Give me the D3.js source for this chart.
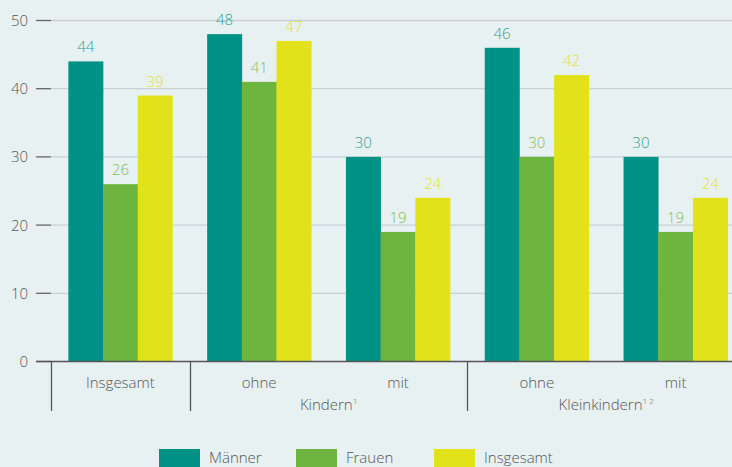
<!DOCTYPE html>
<html>
<head>
<meta charset="utf-8">
<script src="https://cdn.jsdelivr.net/npm/d3@7"></script>
<style>
  html, body { margin: 0; padding: 0; background: #e8f1f2; }
  svg { display: block; font-family: "Open Sans", "Noto Sans", sans-serif; font-weight: 300; }
</style>
</head>
<body>
<svg id="chart" width="732" height="467"></svg>
<script>
const categories = ["Insgesamt", "ohne Kindern", "mit Kindern", "ohne Kleinkindern", "mit Kleinkindern"];
const catLabels = ["Insgesamt", "ohne", "mit", "ohne", "mit"];
const series = ["Männer", "Frauen", "Insgesamt"];
const maenner = [44, 48, 30, 46, 30];
const frauen = [26, 41, 19, 30, 19];
const insgesamt = [39, 47, 24, 42, 24];
const yTicks = [0, 10, 20, 30, 40, 50];
const groupLabels = [
    { text: "Kindern", sup: "1", from: 1, to: 2 },
    { text: "Kleinkindern", sup: "1 2", from: 3, to: 4 }
];

const colors = ["#009286", "#6db53e", "#e2e21a"];
const labelColors = ["#2fa193", "#80bf52", "#e3df2e"];
const values = [maenner, frauen, insgesamt];

const svg = d3.select("#chart");

const x = d3.scaleBand()
    .domain(categories)
    .range([51, 745])
    .paddingInner(0.25)
    .paddingOuter(0.125);

const xs = d3.scaleBand()
    .domain(series)
    .range([0, x.bandwidth()]);

const y = d3.scaleLinear()
    .domain([0, 50])
    .range([361.5, 20.5]);

// grid lines
svg.append("g")
    .selectAll("line")
    .data(yTicks.filter(d => d > 0))
    .join("line")
    .attr("x1", 51)
    .attr("x2", 732)
    .attr("y1", d => y(d))
    .attr("y2", d => y(d))
    .attr("stroke", "#c9d0d3")
    .attr("stroke-width", 1.3);

// tick marks
svg.append("g")
    .selectAll("line")
    .data(yTicks)
    .join("line")
    .attr("x1", 36)
    .attr("x2", 51)
    .attr("y1", d => y(d))
    .attr("y2", d => y(d))
    .attr("stroke", "#666")
    .attr("stroke-width", 1.3);

svg.append("g")
    .selectAll("text")
    .data(yTicks)
    .join("text")
    .attr("x", 28)
    .attr("y", d => y(d) + 5.5)
    .attr("text-anchor", "end")
    .attr("fill", "#555")
    .style("font-size", "15px")
    .text(d => d);

// bars
const groups = svg.append("g")
    .selectAll("g")
    .data(categories)
    .join("g")
    .attr("transform", d => `translate(${x(d)},0)`);

groups.selectAll("rect")
    .data((c, i) => series.map((s, j) => ({ s, j, v: values[j][i] })))
    .join("rect")
    .attr("x", d => xs(d.s))
    .attr("width", xs.bandwidth() + 0.3)
    .attr("y", d => y(d.v))
    .attr("height", d => y(0) - y(d.v))
    .attr("fill", d => colors[d.j]);

groups.selectAll("text")
    .data((c, i) => series.map((s, j) => ({ s, j, v: values[j][i] })))
    .join("text")
    .attr("x", d => xs(d.s) + xs.bandwidth() / 2)
    .attr("y", d => y(d.v) - 9)
    .attr("text-anchor", "middle")
    .attr("fill", d => labelColors[d.j])
    .style("font-size", "15px")
    .text(d => d.v);

// zero axis line
svg.append("line")
    .attr("x1", 36)
    .attr("x2", 732)
    .attr("y1", y(0))
    .attr("y2", y(0))
    .attr("stroke", "#555")
    .attr("stroke-width", 1.3);

// separators
const sepX = [51, x(categories[1]) - x.step() * x.paddingInner() / 2, x(categories[3]) - x.step() * x.paddingInner() / 2];
svg.append("g")
    .selectAll("line")
    .data(sepX)
    .join("line")
    .attr("x1", d => Math.round(d) + 0.5)
    .attr("x2", d => Math.round(d) + 0.5)
    .attr("y1", y(0))
    .attr("y2", 411)
    .attr("stroke", "#555")
    .attr("stroke-width", 1.3);

// category labels
svg.append("g")
    .selectAll("text")
    .data(categories)
    .join("text")
    .attr("x", d => x(d) + x.bandwidth() / 2)
    .attr("y", 388)
    .attr("text-anchor", "middle")
    .attr("fill", "#555")
    .style("font-size", "15px")
    .text((d, i) => catLabels[i]);

// group labels
const gl = svg.append("g")
    .selectAll("text")
    .data(groupLabels)
    .join("text")
    .attr("x", d => (x(categories[d.from]) + x(categories[d.to]) + x.bandwidth()) / 2)
    .attr("y", 410)
    .attr("text-anchor", "middle")
    .attr("fill", "#555")
    .style("font-size", "15px");
gl.append("tspan").text(d => d.text);
gl.append("tspan")
    .attr("dy", -6)
    .style("font-size", "8px")
    .text(d => d.sup);

// legend
const legX = [159, 296, 434];
const legend = svg.append("g")
    .selectAll("g")
    .data(series)
    .join("g")
    .attr("transform", (d, i) => `translate(${legX[i]},449)`);
legend.append("rect")
    .attr("width", 41)
    .attr("height", 20)
    .attr("fill", (d, i) => colors[i]);
legend.append("text")
    .attr("x", 50)
    .attr("y", 14)
    .attr("fill", "#555")
    .style("font-size", "15px")
    .text(d => d);
</script>
</body>
</html>
